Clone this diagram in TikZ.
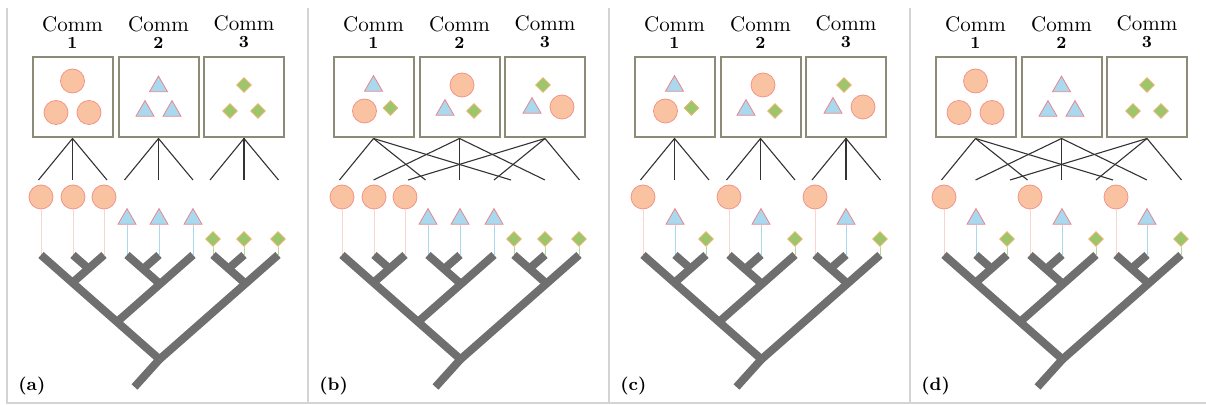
\documentclass[tikz,border=0pt]{standalone}
\usepackage{tikz}
\usetikzlibrary{positioning,shapes.geometric}
\definecolor{boxline}{HTML}{8E8A78}
\definecolor{circfill}{HTML}{F9C3A2}
\definecolor{circline}{HTML}{F2938A}
\definecolor{trifill}{HTML}{A8D9EE}
\definecolor{triline}{HTML}{E8858F}
\definecolor{diamfill}{HTML}{9CC66B}
\definecolor{diamline}{HTML}{E6B46E}
\definecolor{treegray}{HTML}{6F6F6F}
\definecolor{framegray}{HTML}{D4D4D4}
\definecolor{linkcol}{HTML}{333333}
\tikzstyle{commbox}=[draw=boxline, line width=1pt, minimum size=40pt, inner sep=0pt]
\tikzstyle{circ}=[circle, draw=circline, fill=circfill, line width=0.4pt, minimum size=12pt, inner sep=0pt]
\tikzstyle{tri}=[regular polygon, regular polygon sides=3, draw=triline, fill=trifill, line width=0.4pt, minimum size=10.4pt, inner sep=0pt]
\tikzstyle{diam}=[diamond, draw=diamline, fill=diamfill, line width=0.4pt, minimum size=7.4pt, inner sep=0pt]
\tikzstyle{circ stem}=[draw=circline!40, line width=0.5pt]
\tikzstyle{tri stem}=[draw=trifill, line width=0.5pt]
\tikzstyle{diam stem}=[draw=diamfill!70, line width=0.5pt]
\tikzstyle{link}=[draw=linkcol, line width=0.55pt]
\tikzstyle{branch}=[draw=treegray, line width=4pt]
\tikzstyle{frame}=[draw=framegray, line width=1.2pt]
\tikzstyle{commlabel}=[font=\fontsize{10.5}{8.5}\selectfont, align=center, anchor=south, inner sep=0pt]
\tikzstyle{panellabel}=[font=\bfseries\fontsize{9}{10}\selectfont, anchor=west, inner sep=0pt]
\newcommand{\monobox}{1/circ/0/-16.5,1/circ/-16.5/15,1/circ/16.5/15,2/tri/0/-11,2/tri/-13.5/13.5,2/tri/13.5/13.5,3/diam/0/-12.5,3/diam/-14/13.5,3/diam/14/13.5}
\newcommand{\mixbox}{1/tri/0/-11.5,1/circ/-9/13.5,1/diam/17/10.5,2/circ/2.5/-12.5,2/tri/-14.5/12.5,2/diam/14.5/13.5,3/diam/-2/-12.5,3/tri/-13/10.5,3/circ/17/9.5}
\newcommand{\grouprow}{1/circ/34/197,2/circ/66/197,3/circ/97/197,4/tri/120/219,5/tri/152/219,6/tri/186/219,7/diam/206/239,8/diam/237/239,9/diam/271/239}
\newcommand{\mixrow}{1/circ/34/197,2/tri/66/219,3/diam/97/239,4/circ/120/197,5/tri/152/219,6/diam/186/239,7/circ/206/197,8/tri/237/219,9/diam/271/239}
\newcommand{\straightlinks}{1/1,1/2,1/3,2/4,2/5,2/6,3/7,3/8,3/9}
\newcommand{\crosslinks}{1/1,1/4,1/7,2/2,2/5,2/8,3/3,3/6,3/9}

\begin{document}
\begin{tikzpicture}[x=0.5pt, y=-0.5pt]
\useasboundingbox (0,0) rectangle (1206,405);
% panel frames
\draw[frame] (7,8) -- (7,403) -- (1206,403);
\foreach \x in {308,609,910} \draw[frame] (\x,8) -- (\x,403);

\foreach \i/\lab/\mix/\inter/\cross in {0/a/0/0/0,1/b/1/0/1,2/c/1/1/0,3/d/0/1/1} {
\begin{scope}[shift={(7+301*\i,0)}]
  % communities
  \node[commbox] (\lab-box1) at (65.5,97.5) {};
  \node[commbox, right of=\lab-box1, node distance=43pt] (\lab-box2) {};
  \node[commbox, right of=\lab-box2, node distance=42.75pt] (\lab-box3) {};
  \foreach \k in {1,2,3}
    \node[commlabel] (\lab-name\k) at ([yshift=4pt]\lab-box\k.north) {Comm\\\fontsize{8.5}{8.5}\selectfont\textbf{\k}};
  \ifnum\mix=0 \let\inbox\monobox \else \let\inbox\mixbox \fi
  \foreach \k/\s/\dx/\dy [count=\m] in \inbox
    \node[\s] (\lab-m\m) at ([shift={(\dx,\dy)}]\lab-box\k.center) {};
  % species and tips
  \foreach \n/\x in {1/31.5,2/65.5,3/100,4/117.5,5/151.5,6/186,7/203,8/237,9/271.5}
    \coordinate (\lab-e\n) at (\x,180);
  \ifnum\inter=0 \let\species\grouprow \else \let\species\mixrow \fi
  \foreach \n/\s/\x/\y in \species {
    \node[\s] (\lab-s\n) at (\x,\y) {};
    \coordinate (\lab-t\n) at (\x,255);
    \draw[\s\space stem] (\lab-s\n) -- (\lab-t\n);
  }
  \ifnum\cross=0 \let\links\straightlinks \else \let\links\crosslinks \fi
  \foreach \k/\n in \links
    \draw[link] (\lab-box\k.south) -- (\lab-e\n);
  % tree
  \coordinate (\lab-A) at (81.5,268.6);
  \coordinate (\lab-B) at (65.5,282.7);
  \coordinate (\lab-C) at (136,269.1);
  \coordinate (\lab-D) at (153,284);
  \coordinate (\lab-E) at (221.5,268.6);
  \coordinate (\lab-F) at (238.5,283.6);
  \coordinate (\lab-G) at (110,321.9);
  \coordinate (\lab-R) at (152.5,359.3);
  \coordinate (\lab-root) at (127.5,387);
  \draw[branch] (\lab-t2) -- (\lab-A);
  \draw[branch] (\lab-t3) -- (\lab-B);
  \draw[branch] (\lab-t5) -- (\lab-C);
  \draw[branch] (\lab-t4) -- (\lab-D);
  \draw[branch] (\lab-t6) -- (\lab-G);
  \draw[branch] (\lab-t8) -- (\lab-E);
  \draw[branch] (\lab-t7) -- (\lab-F);
  \draw[branch] (\lab-t1) -- (\lab-R);
  \draw[branch] (\lab-t9) -- (\lab-R);
  \draw[branch] (\lab-R) -- (\lab-root);
  \node[panellabel] (\lab-tag) at (11,386) {(\lab)};
\end{scope}
}
\end{tikzpicture}
\end{document}
